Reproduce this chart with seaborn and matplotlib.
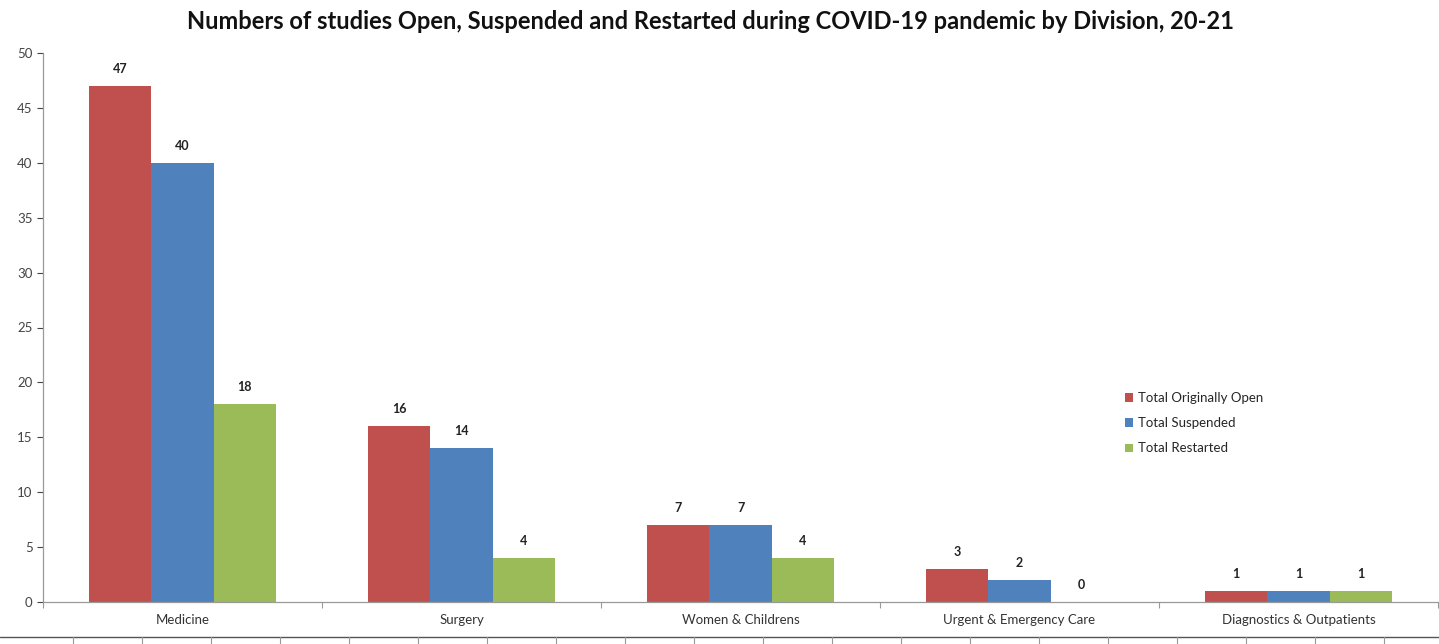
import numpy as np
import pandas as pd
import matplotlib
matplotlib.use("Agg")
import matplotlib.pyplot as plt
from matplotlib.lines import Line2D
import seaborn as sns

# data
divisions = ["Medicine", "Surgery", "Women & Childrens", "Urgent & Emergency Care", "Diagnostics & Outpatients"]
series = ["Total Originally Open", "Total Suspended", "Total Restarted"]
originally_open = [47, 16, 7, 3, 1]
suspended = [40, 14, 7, 2, 1]
restarted = [18, 4, 4, 0, 1]
colors = ["#C0504D", "#4F81BD", "#9BBB59"]

df = pd.DataFrame({
    "Division": divisions * 3,
    "Series": np.repeat(series, len(divisions)),
    "Value": originally_open + suspended + restarted,
})

sns.set_theme(style="white")
plt.rcParams["font.family"] = ["Lato", "DejaVu Sans"]

fig = plt.figure(figsize=(14.39, 6.44), dpi=100)
ax = fig.add_axes([43 / 1439, 42 / 644, 1395 / 1439, 549 / 644])

sns.barplot(data=df, x="Division", y="Value", hue="Series", palette=colors,
            width=0.67, saturation=1, linewidth=0, ax=ax, legend=True)

for cont in ax.containers:
    ax.bar_label(cont, fmt="%d", padding=8, fontsize=9, fontweight="bold", color="#222222")

ax.set_ylim(0, 50)
ax.set_yticks(range(0, 51, 5))
ax.set_xlim(-0.5, len(divisions) - 0.5)
ax.set_xlabel("")
ax.set_ylabel("")
ax.tick_params(axis="y", labelsize=9.5, colors="#444444", length=4, width=0.8, direction="out", left=True)
ax.tick_params(axis="x", labelsize=9.5, colors="#333333", length=0, pad=9)
# category separator ticks on the x axis
ax.set_xticks(np.arange(-0.5, len(divisions)), minor=True)
ax.tick_params(axis="x", which="minor", length=4, width=0.8, color="#999999", direction="out", bottom=True)

sns.despine(ax=ax)
for s in ["left", "bottom"]:
    ax.spines[s].set_color("#999999")
    ax.spines[s].set_linewidth(0.9)

leg = ax.legend(loc="upper left", bbox_to_anchor=(1070 / 1395, 0.404), frameon=False,
                fontsize=9.5, handlelength=0.6, handleheight=0.6, handletextpad=0.4,
                labelspacing=1.0)

fig.suptitle("Numbers of studies Open, Suspended and Restarted during COVID-19 pandemic by Division, 20-21",
             fontsize=17, fontweight="bold", y=0.985, x=0.494, color="#111111")

# cropped table border under the chart
fig.add_artist(Line2D([0, 1], [1 - 637 / 644, 1 - 637 / 644], color="#555555", lw=1))
for k in range(20):
    x = (73 + 69 * k) / 1439
    if x < 1:
        fig.add_artist(Line2D([x, x], [0, 1 - 637 / 644], color="#999999", lw=0.8))

fig.savefig("out.png", dpi=100, facecolor="white")
